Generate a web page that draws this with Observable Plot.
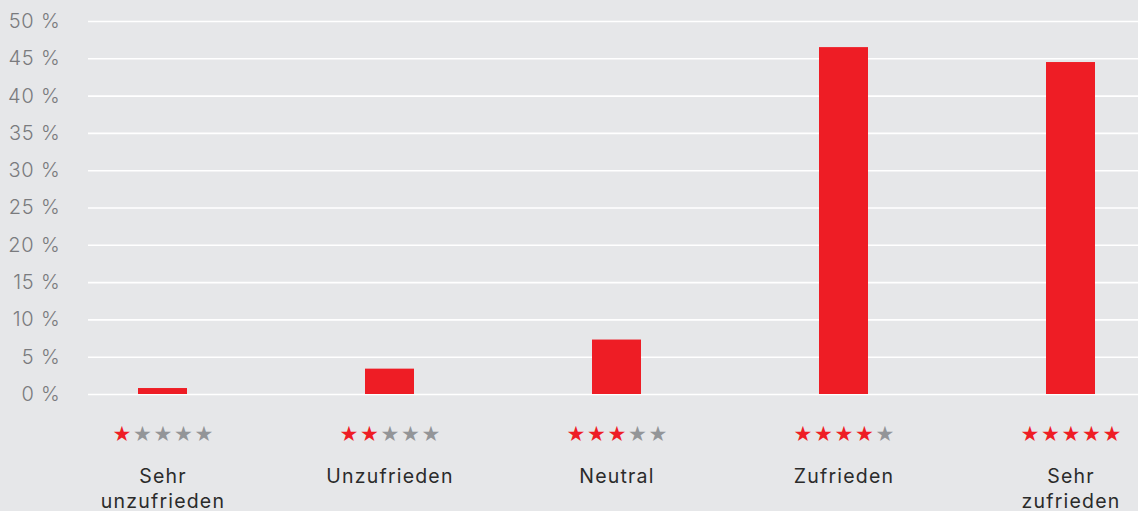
<!DOCTYPE html>
<html>
<head>
<meta charset="utf-8">
<script src="https://cdn.jsdelivr.net/npm/d3@7"></script>
<script src="https://cdn.jsdelivr.net/npm/@observablehq/plot@0.6"></script>
<style>
  html, body { margin: 0; padding: 0; background: #e6e7e9; overflow: hidden; }
</style>
</head>
<body>
<div id="chart"></div>
<script>
const categories = ["Sehr\nunzufrieden", "Unzufrieden", "Neutral", "Zufrieden", "Sehr\nzufrieden"];
const values = [0.8, 3.4, 7.3, 46.5, 44.5];
const ratings = [1, 2, 3, 4, 5];
const yTicks = [0, 5, 10, 15, 20, 25, 30, 35, 40, 45, 50];

const data = categories.map((c, i) => ({category: c, value: values[i], rating: ratings[i]}));

const red = "#ee1d25";
const gray = "#939598";
const font = "Inter, 'Open Sans', sans-serif";

const starMarks = [0, 1, 2, 3, 4].map(k =>
  Plot.text(data, {
    x: "category",
    frameAnchor: "bottom",
    text: () => "★",
    fill: d => (k < d.rating ? red : gray),
    dx: (k - 2) * 20.5,
    dy: 40,
    fontSize: 21,
    fontFamily: "DejaVu Sans",
    lineAnchor: "middle"
  })
);

const chart = Plot.plot({
  width: 1138,
  height: 511,
  marginTop: 21,
  marginBottom: 117,
  marginLeft: 88,
  marginRight: 0,
  style: {background: "#e6e7e9", fontFamily: font, overflow: "visible"},
  x: {domain: categories, range: [49, 1184], paddingInner: 0.784, paddingOuter: 0.392, axis: null},
  y: {domain: [0, 50], axis: null},
  color: {type: "identity"},
  marks: [
    Plot.ruleY(yTicks, {stroke: "#ffffff", strokeWidth: 1.6}),
    Plot.text(yTicks, {
      y: d => d,
      frameAnchor: "left",
      text: d => d + " %",
      textAnchor: "end",
      dx: -28,
      fill: "#7a7b7e",
      fontSize: 20,
      fontWeight: 300
    }),
    Plot.barY(data, {x: "category", y: "value", fill: red}),
    ...starMarks,
    Plot.text(data, {
      x: "category",
      text: "category",
      frameAnchor: "bottom",
      lineAnchor: "top",
      dy: 70,
      lineHeight: 1.3,
      fill: "#2b2b2b",
      fontSize: 19.5
    })
  ]
});

// widen letter spacing to mimic the reference's wide geometric typeface
d3.select(chart).selectAll("text")
  .filter(function () { return this.textContent !== "★"; })
  .style("letter-spacing", "1.2px");
d3.select(chart).selectAll("g[aria-label=text]").each(function () {
  d3.select(this).selectAll("text").filter(function () { return /%/.test(this.textContent); })
    .style("letter-spacing", "0.8px");
});

document.getElementById("chart").appendChild(chart);
</script>
</body>
</html>
